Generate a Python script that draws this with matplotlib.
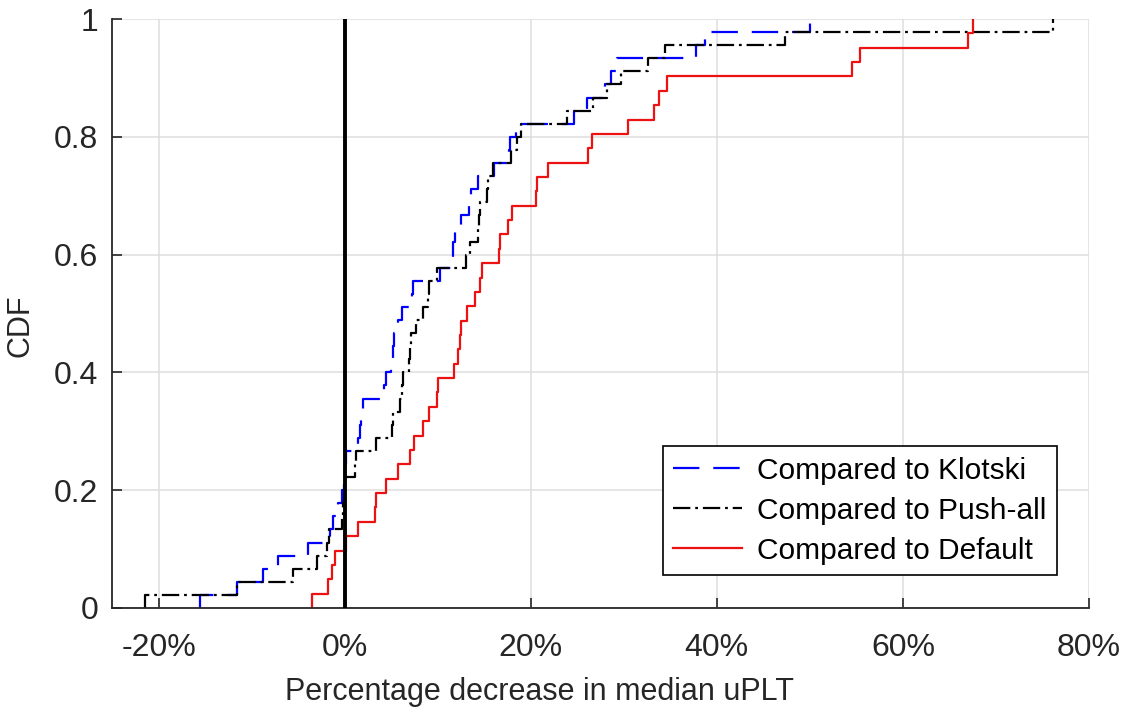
import numpy as np
import matplotlib
matplotlib.use("Agg")
import matplotlib.pyplot as plt

plt.rcParams['font.family'] = ['Liberation Sans', 'DejaVu Sans']
plt.rcParams['lines.scale_dashes'] = False

# sorted per-site percentage decreases
klotski = [-15.5, -11.6, -8.8, -7.2, -3.9, -1.6, -1.3, -0.7, -0.3, -0.1,
           0.0, 0.1, 1.4, 1.6, 1.8, 2.0, 4.2, 4.5, 5.0, 5.2,
           5.3, 5.7, 6.2, 7.2, 7.4, 10.2, 11.6, 11.7, 11.9, 12.5,
           13.4, 13.6, 14.3, 16.1, 17.7, 17.8, 18.4, 24.7, 26.1, 28.0,
           28.6, 29.3, 37.8, 38.7, 50.0]
push_all = [-21.5, -11.6, -5.5, -3.0, -1.9, -1.7, -0.3, -0.2, -0.1, 0.0,
            1.1, 1.2, 3.4, 5.1, 5.2, 5.9, 6.2, 6.3, 6.9, 7.0,
            7.1, 7.7, 8.4, 9.0, 9.1, 9.9, 13.0, 13.5, 14.3, 14.4,
            14.5, 15.3, 15.4, 16.0, 17.9, 18.5, 19.0, 23.9, 26.7, 28.2,
            29.7, 32.6, 34.4, 47.3, 76.1]
default = [-3.5, -1.8, -1.4, -1.0, 0.1, 1.4, 3.3, 3.4, 4.4, 5.7,
           7.0, 7.5, 8.4, 9.1, 9.9, 10.0, 11.8, 12.2, 12.4, 12.5,
           13.1, 14.0, 14.5, 14.8, 16.6, 16.7, 17.6, 18.0, 20.6, 20.7,
           21.9, 26.2, 26.6, 30.5, 33.2, 33.8, 34.6, 54.5, 55.4, 67.0,
           67.5]

labels = ["Compared to Klotski", "Compared to Push-all", "Compared to Default"]
x_ticks = [-20, 0, 20, 40, 60, 80]
x_tick_labels = ["-20%", "0%", "20%", "40%", "60%", "80%"]
y_ticks = [0, 0.2, 0.4, 0.6, 0.8, 1]
y_tick_labels = ["0", "0.2", "0.4", "0.6", "0.8", "1"]


def ecdf(vals):
    v = np.sort(np.asarray(vals, dtype=float))
    n = len(v)
    x = np.concatenate([[v[0]], v])
    y = np.concatenate([[0.0], np.arange(1, n + 1) / n])
    return x, y


fig = plt.figure(figsize=(11.36, 7.15), dpi=100)
ax = fig.add_axes([0.0986, 0.1497, 0.8600, 0.8237])

x, y = ecdf(klotski)
ax.step(x, y, where='post', color='#0000ff', lw=1.6,
        linestyle=(0, (19, 10)), label=labels[0])
x, y = ecdf(push_all)
ax.step(x, y, where='post', color='black', lw=1.6,
        linestyle=(0, (12.5, 3.5, 2, 3.5)), label=labels[1])
x, y = ecdf(default)
ax.step(x, y, where='post', color='#ee1111', lw=1.6, label=labels[2])

ax.axvline(0, color='black', lw=2.8, zorder=5)

ax.set_xlim(-25, 80)
ax.set_ylim(0, 1)
ax.set_xticks(x_ticks)
ax.set_xticklabels(x_tick_labels)
ax.set_yticks(y_ticks)
ax.set_yticklabels(y_tick_labels)
ax.tick_params(direction='in', length=7, width=1.2, labelsize=23, colors='#262626')
ax.tick_params(axis='x', pad=18)
ax.tick_params(axis='y', pad=10)
ax.grid(True, color='#dedede', lw=1.1)
ax.set_axisbelow(True)

for s in ['top', 'right']:
    ax.spines[s].set_visible(False)
for s in ['left', 'bottom']:
    ax.spines[s].set_linewidth(1.3)
    ax.spines[s].set_color('#262626')

ax.set_xlabel("Percentage decrease in median uPLT", fontsize=22, color='#262626')
ax.set_ylabel("CDF", fontsize=22, color='#262626')
ax.xaxis.set_label_coords(0.438, -0.118)
ax.yaxis.set_label_coords(-0.078, 0.48)

leg = ax.legend(loc='lower right', bbox_to_anchor=(0.967, 0.056), borderaxespad=0,
                fontsize=21.5, fancybox=False, framealpha=1, edgecolor='black',
                handlelength=2.3, handletextpad=0.5, labelspacing=0.4, borderpad=0.35)
leg.get_frame().set_linewidth(1.2)

fig.savefig("out.png", dpi=100)
